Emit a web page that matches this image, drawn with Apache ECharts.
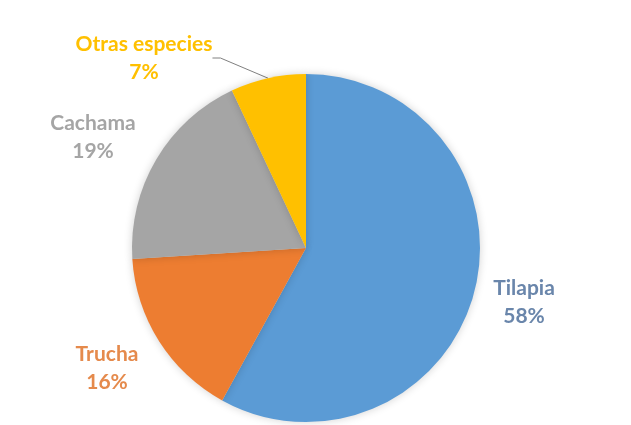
<!DOCTYPE html>
<html>
<head>
<meta charset="utf-8">
<script src="https://cdn.jsdelivr.net/npm/echarts@6/dist/echarts.min.js"></script>
<style>
  html, body { margin: 0; padding: 0; background: #fff; }
  #chart { width: 631px; height: 425px; }
</style>
</head>
<body>
<div id="chart"></div>
<script>
// Share of production by species (percent)
const species = ['Tilapia', 'Trucha', 'Cachama', 'Otras especies'];
const shares = [58, 16, 19, 7];
const sliceColors = ['#5b9bd5', '#ed7d31', '#a5a5a5', '#ffc000'];
const labelColors = ['#6a86ab', '#e58a4c', '#a5a5a5', '#ffc000'];

// Label anchor points (centre of each two-line label block)
const labelSpots = [[524, 302], [107, 368], [93, 137], [144, 58]];

const chart = echarts.init(document.getElementById('chart'));
chart.setOption({
  backgroundColor: '#ffffff',
  animation: false,
  series: [{
    type: 'pie',
    center: [306, 248],
    radius: 174,
    startAngle: 90,
    clockwise: true,
    data: species.map((name, i) => ({
      name: name,
      value: shares[i],
      itemStyle: { color: sliceColors[i] },
      label: { color: labelColors[i] },
      labelLine: { show: i === 3 }
    })),
    itemStyle: {
      borderWidth: 0,
      shadowBlur: 8,
      shadowColor: 'rgba(0,0,0,0.18)'
    },
    label: {
      show: true,
      position: 'outside',
      formatter: '{b}\n{c}%',
      fontFamily: 'Lato',
      fontWeight: 'bold',
      fontSize: 21,
      lineHeight: 28,
      align: 'center'
    },
    labelLine: {
      show: true,
      length: 10,
      length2: 8,
      lineStyle: { color: '#808080', width: 1 }
    },
    labelLayout: function (params) {
      const p = labelSpots[params.dataIndex];
      return {
        x: p[0],
        y: p[1],
        align: 'center',
        verticalAlign: 'middle',
        moveOverlap: false
      };
    }
  }]
});
</script>
</body>
</html>
